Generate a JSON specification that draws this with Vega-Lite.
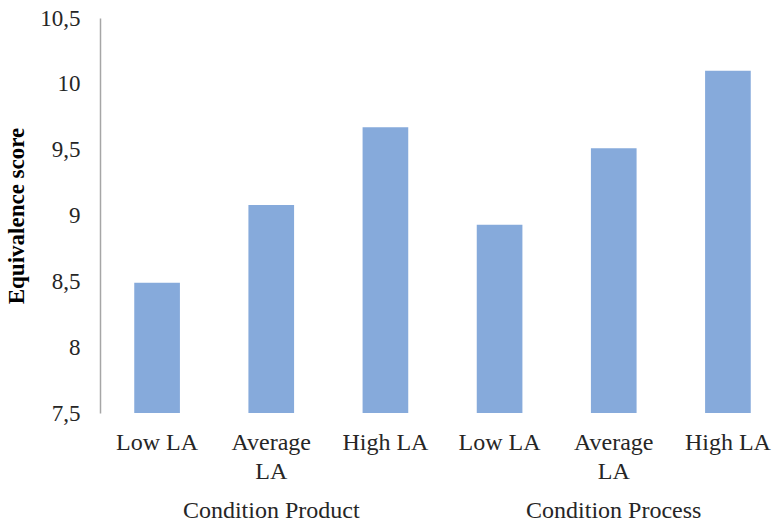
{
  "$schema": "https://vega.github.io/schema/vega-lite/v6.json",
  "width": 674,
  "height": 395,
  "autosize": {"type": "none"},
  "padding": {"left": 100, "top": 18, "right": 0, "bottom": 113},
  "config": {
    "view": {"stroke": null},
    "font": "Liberation Serif"
  },
  "data": {
    "values": [
      {"condition": "Condition Product", "item": "Product|Low LA", "score": 8.49},
      {"condition": "Condition Product", "item": "Product|Average LA", "score": 9.08},
      {"condition": "Condition Product", "item": "Product|High LA", "score": 9.67},
      {"condition": "Condition Process", "item": "Process|Low LA", "score": 8.93},
      {"condition": "Condition Process", "item": "Process|Average LA", "score": 9.51},
      {"condition": "Condition Process", "item": "Process|High LA", "score": 10.1}
    ]
  },
  "layer": [
    {
      "mark": {"type": "bar", "color": "#86aadb", "clip": true},
      "encoding": {
        "x": {
          "field": "item",
          "type": "nominal",
          "sort": null,
          "scale": {"range": [0, 685], "paddingInner": 0.6, "paddingOuter": 0.3},
          "axis": {
            "title": null,
            "orient": "bottom",
            "domain": false,
            "ticks": false,
            "labelAngle": 0,
            "labelFont": "Liberation Serif",
            "labelFontSize": 24,
            "labelColor": "#262626",
            "labelPadding": 17,
            "labelLineHeight": 29,
            "labelLimit": 200,
            "labelExpr": "split(datum.value, '|')[1] == 'Average LA' ? ['Average', 'LA'] : split(datum.value, '|')[1]"
          }
        },
        "y": {
          "field": "score",
          "type": "quantitative",
          "scale": {"domain": [7.5, 10.5], "zero": false, "nice": false},
          "axis": {
            "title": "Equivalence score",
            "titleFont": "Liberation Serif",
            "titleFontSize": 23,
            "titleFontWeight": "bold",
            "titleColor": "#000000",
            "titlePadding": 11,
            "values": [7.5, 8, 8.5, 9, 9.5, 10, 10.5],
            "labelExpr": "replace(toString(datum.value), '.', ',')",
            "labelFont": "Liberation Serif",
            "labelFontSize": 23,
            "labelColor": "#262626",
            "labelPadding": 20,
            "ticks": false,
            "grid": false,
            "domainColor": "#a6a6a6",
            "domainWidth": 1.5
          }
        }
      }
    },
    {
      "mark": {"type": "rule", "opacity": 0},
      "encoding": {
        "x": {
          "field": "condition",
          "type": "nominal",
          "sort": null,
          "scale": {"range": [0, 685], "paddingInner": 0, "paddingOuter": 0},
          "axis": {
            "title": null,
            "orient": "bottom",
            "offset": 85,
            "domain": false,
            "ticks": false,
            "labelAngle": 0,
            "labelFont": "Liberation Serif",
            "labelFontSize": 24,
            "labelColor": "#262626",
            "labelPadding": 0,
            "labelLimit": 300
          }
        }
      }
    }
  ],
  "resolve": {"scale": {"x": "independent"}, "axis": {"x": "independent"}}
}
